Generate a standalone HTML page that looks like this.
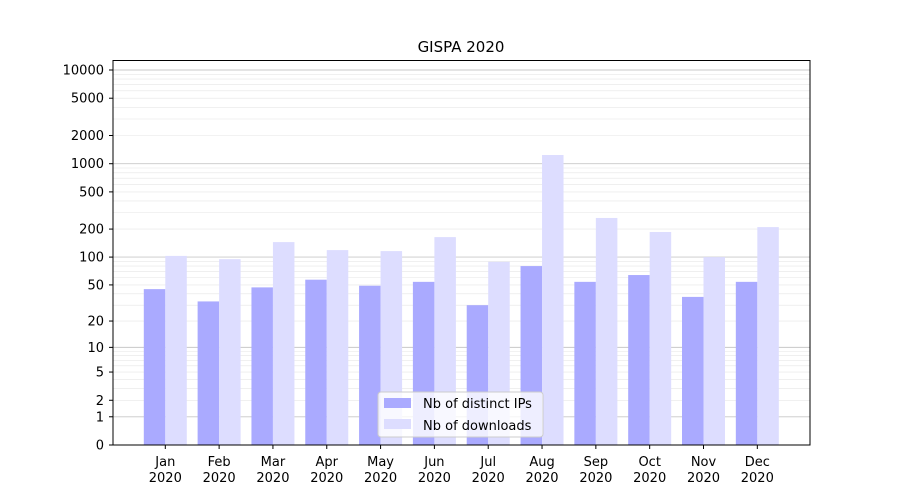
<!DOCTYPE html>
<html><head><meta charset="utf-8"><style>
html,body{margin:0;padding:0;background:#fff;width:900px;height:500px;overflow:hidden}
svg{display:block;font-family:"DejaVu Sans","Liberation Sans",sans-serif}
</style></head><body>
<svg id="c" width="900" height="500" xmlns="http://www.w3.org/2000/svg">
<rect width="900" height="500" fill="#fff"/>
<g id="grid"></g><g id="bars"></g>
<rect x="113" y="60.5" width="697" height="384.5" fill="none" stroke="#000" stroke-width="1"/>
<g id="ticks" font-size="13" fill="#000"></g>
<text x="461" y="52" font-size="15" text-anchor="middle">GISPA 2020</text>
<g>
<rect x="378" y="392" width="165" height="45" rx="3" fill="#fff" fill-opacity="0.8" stroke="#ccc"/>
<rect x="384" y="398" width="27" height="10" fill="#aaaaff"/>
<text x="423" y="408" font-size="13">Nb of distinct IPs</text>
<rect x="384" y="419" width="27" height="10" fill="#ddddff"/>
<text x="423" y="430" font-size="13">Nb of downloads</text>
</g>
</svg>
<script>
var Y=function(v){return 445-93.75*Math.log10(1+v)};
var ns="http://www.w3.org/2000/svg";
function el(p,t,a,txt){var e=document.createElementNS(ns,t);for(var k in a)e.setAttribute(k,a[k]);if(txt!=null)e.textContent=txt;document.getElementById(p).appendChild(e);}
// minor grid
for(var d=1;d<=1000;d*=10)for(var m=2;m<=9;m++){var y=Y(m*d);el("grid","line",{x1:113,x2:810,y1:y,y2:y,stroke:"#e6e6e6","stroke-width":0.6});}
[1,10,100,1000,10000].forEach(function(v){var y=Y(v);el("grid","line",{x1:113,x2:810,y1:y,y2:y,stroke:"#c8c8c8","stroke-width":0.9});});
var ip=[45,33,47,57,49,54,30,80,54,64,37,54];
var dl=[103,95,145,119,116,164,89,1239,263,186,100,210];
var mo=["Jan","Feb","Mar","Apr","May","Jun","Jul","Aug","Sep","Oct","Nov","Dec"];
for(var i=0;i<12;i++){var cx=165.3+i*53.82;
el("bars","rect",{x:cx-21.5,y:Y(ip[i]),width:21.5,height:445-Y(ip[i]),fill:"#aaaaff"});
el("bars","rect",{x:cx,y:Y(dl[i]),width:21.5,height:445-Y(dl[i]),fill:"#ddddff"});
el("ticks","line",{x1:cx,x2:cx,y1:445,y2:449,stroke:"#000"});
el("ticks","text",{x:cx,y:466,"text-anchor":"middle"},mo[i]);
el("ticks","text",{x:cx,y:482,"text-anchor":"middle"},"2020");}
[0,1,2,5,10,20,50,100,200,500,1000,2000,5000,10000].forEach(function(v){var y=Y(v);
el("ticks","line",{x1:109,x2:113,y1:y,y2:y,stroke:"#000"});
el("ticks","text",{x:104,y:y+4.5,"text-anchor":"end"},String(v));});
</script>
</body></html>
